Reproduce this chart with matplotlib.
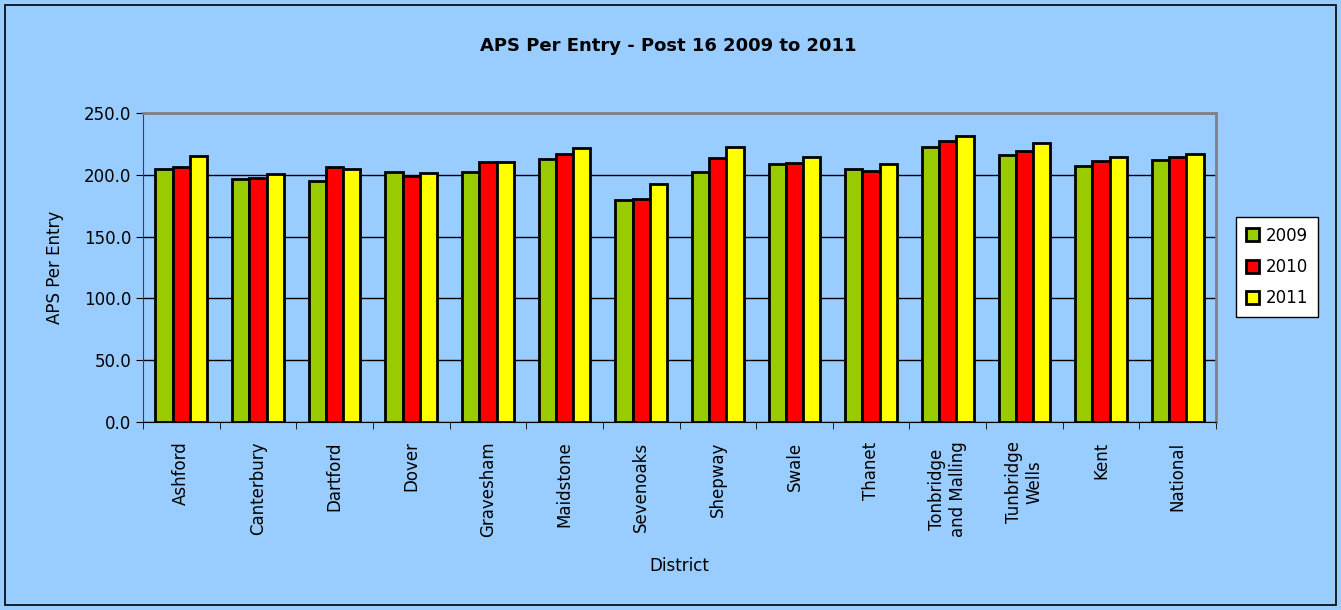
import matplotlib
matplotlib.use('Agg')
import matplotlib.pyplot as plt
from matplotlib.patches import Rectangle
import numpy as np

districts = ['Ashford', 'Canterbury', 'Dartford', 'Dover', 'Gravesham', 'Maidstone',
             'Sevenoaks', 'Shepway', 'Swale', 'Thanet', 'Tonbridge\nand Malling',
             'Tunbridge\nWells', 'Kent', 'National']
aps_2009 = [204.6, 196.7, 194.6, 202.4, 201.9, 212.8, 179.6, 201.9, 208.4, 204.6, 222.8, 216.0, 207.1, 211.7]
aps_2010 = [206.5, 197.5, 206.2, 198.9, 210.6, 217.1, 180.4, 213.9, 209.2, 203.3, 227.7, 219.3, 211.4, 214.1]
aps_2011 = [215.2, 200.8, 204.6, 201.4, 210.3, 221.8, 192.9, 222.3, 214.1, 208.4, 231.0, 225.5, 214.1, 216.6]
years = ['2009', '2010', '2011']
colours = ['#99CC00', '#FF0000', '#FFFF00']

bg = '#99CCFF'
plt.rcParams['font.family'] = 'DejaVu Sans'

fig = plt.figure(figsize=(13.41, 6.10), dpi=100, facecolor=bg)
W, H = 1341, 610
ax = fig.add_axes([143 / W, 1 - 422 / H, (1216 - 143) / W, (422 - 113) / H], facecolor=bg)

# outer border
fig.patches.append(Rectangle((5 / W, 5 / H), 1 - 10 / W, 1 - 10 / H, transform=fig.transFigure,
                             fill=False, edgecolor='black', linewidth=1.2))

x = np.arange(len(districts))
bw = 0.225
for i, (vals, c, lab) in enumerate(zip([aps_2009, aps_2010, aps_2011], colours, years)):
    ax.bar(x + (i - 1) * bw, vals, bw, color=c, edgecolor='black', linewidth=2, label=lab, zorder=3)

ax.set_xlim(-0.5, len(districts) - 0.5)
ax.set_ylim(0, 250)
ax.set_yticks(np.arange(0, 251, 50))
ax.set_yticklabels(['%.1f' % v for v in np.arange(0, 251, 50)], fontsize=12)
ax.yaxis.grid(True, color='black', linewidth=1)
ax.set_axisbelow(True)

ax.set_xticks(x)
ax.set_xticklabels(districts, rotation=90, fontsize=12, va='top', ha='center', multialignment='center')
ax.tick_params(axis='x', length=0, pad=14)
ax.set_xticks(np.arange(-0.5, len(districts), 1), minor=True)
ax.tick_params(axis='x', which='minor', length=5, direction='out')
ax.tick_params(axis='y', length=5, direction='out')

for s in ['top', 'right']:
    ax.spines[s].set_color('#808080')
    ax.spines[s].set_linewidth(2)
ax.spines['left'].set_color('#404040')
ax.spines['bottom'].set_color('black')

ax.set_xlabel('District', fontsize=12, labelpad=14)
ax.set_ylabel('APS Per Entry', fontsize=12, labelpad=14)
fig.text(668 / W, 1 - 46 / H, 'APS Per Entry - Post 16 2009 to 2011', ha='center', va='center',
         fontsize=13, fontweight='bold')

leg = fig.legend(loc='center', bbox_to_anchor=(1277 / W, 1 - 267 / H), fontsize=12, frameon=True,
                 fancybox=False, edgecolor='black', facecolor='white', framealpha=1,
                 handlelength=0.8, handleheight=0.8, handletextpad=0.4, labelspacing=0.8,
                 borderpad=0.6)
leg.get_frame().set_linewidth(1)

fig.savefig('out.png', dpi=100, facecolor=bg)
